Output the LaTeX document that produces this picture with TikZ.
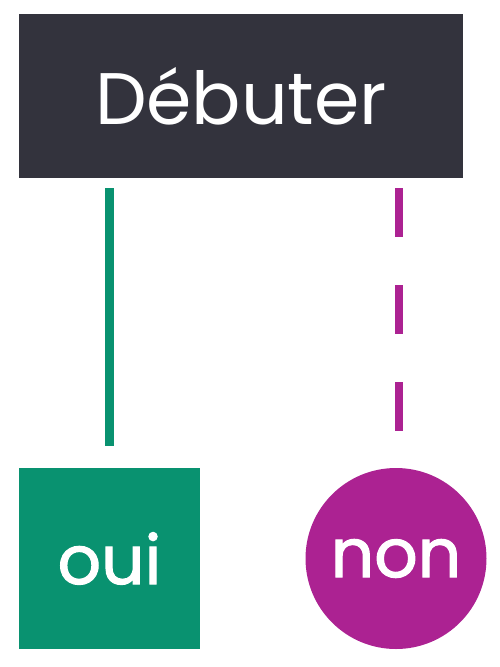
\documentclass[tikz,border=0pt]{standalone}
\usepackage{fontspec}
\setmainfont{Poppins}
\newfontfamily\boldish[FakeBold=1.6]{Poppins}
\usepackage{xcolor}
\usetikzlibrary{shapes.geometric, arrows}
\definecolor{slate}{HTML}{33333D}
\definecolor{ouigreen}{HTML}{099270}
\definecolor{nonpurple}{HTML}{AC2292}
\tikzstyle{startbox} = [rectangle, minimum width=444pt, minimum height=164pt, inner sep=0pt, text centered, fill=slate, text=white, font=\fontsize{73}{88}\selectfont]
\tikzstyle{ouibox} = [rectangle, minimum width=181pt, minimum height=181pt, inner sep=0pt, text centered, fill=ouigreen, text=white, font=\boldish\fontsize{68}{80}\selectfont]
\tikzstyle{noncircle} = [circle, minimum size=181pt, inner sep=0pt, text centered, fill=nonpurple, text=white, font=\boldish\fontsize{68}{80}\selectfont]
\tikzstyle{ouiline} = [line width=8.7pt, draw=ouigreen, shorten <=10pt, shorten >=22.3pt]
\tikzstyle{nonline} = [line width=8.7pt, draw=nonpurple, dash pattern=on 48.5pt off 48.5pt, shorten <=10pt, shorten >=22.3pt]

\begin{document}
\begin{tikzpicture}[x=1pt, y=-1pt]
	
	\useasboundingbox (0,0) rectangle (500,667);
	
	\node (start) [startbox] at (241,96) {Débuter};
	\node (oui) [ouibox] at (109.5,558.5) {oui};
	\node (non) [noncircle] at (396,558.5) {non};
	
	\draw [ouiline] (oui.north |- start.south) -- (oui.north);
	\draw [nonline] ([xshift=3pt]non.north |- start.south) -- ([xshift=3pt]non.north);
	
\end{tikzpicture}
\end{document}
